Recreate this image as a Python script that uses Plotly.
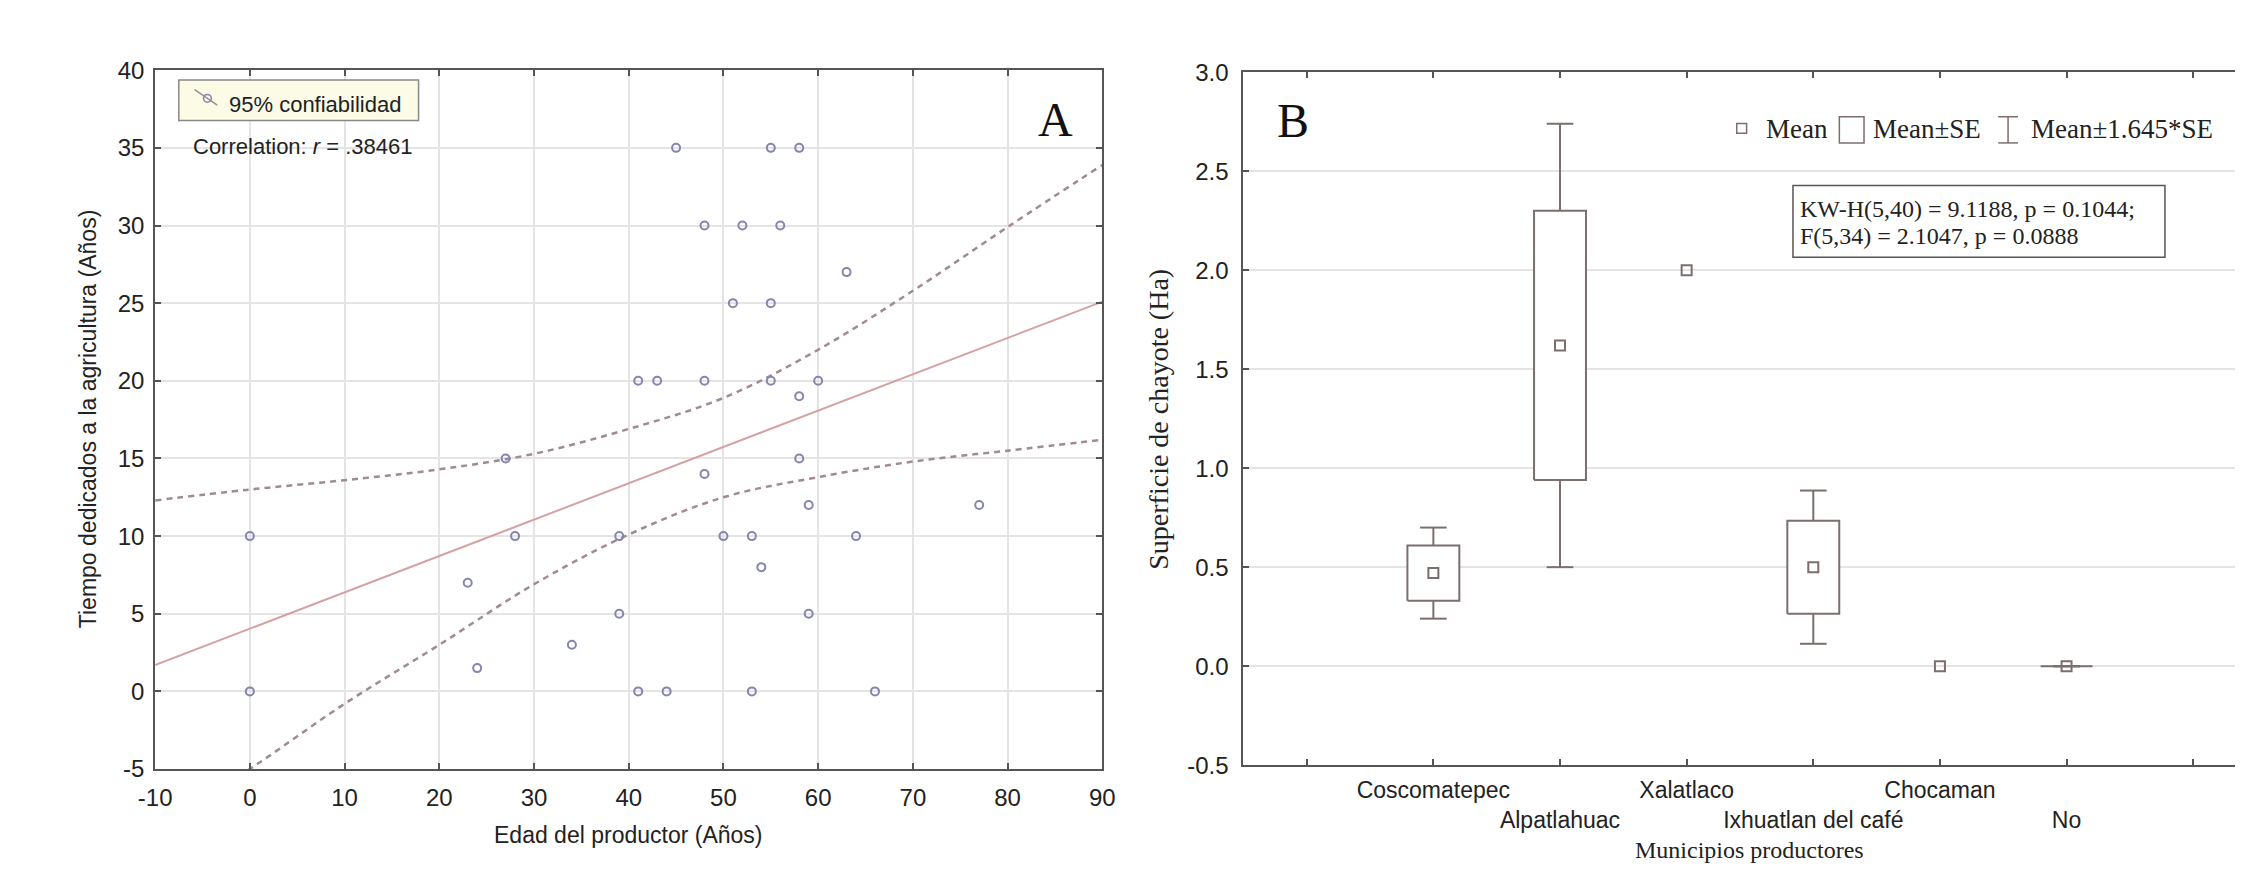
import plotly.graph_objects as go

W, H = 2248, 878

# ---------------- Panel A data ----------------
edad = [0, 0, 23, 24, 27, 28, 34, 39, 39, 41, 43, 41, 44, 45, 48, 48, 48, 50, 51, 52,
        53, 53, 54, 55, 55, 55, 56, 58, 58, 58, 59, 59, 60, 63, 64, 66, 77]
tiempo = [10, 0, 7, 1.5, 15, 10, 3, 10, 5, 20, 20, 0, 0, 35, 30, 20, 14, 10, 25, 30,
          10, 0, 8, 35, 25, 20, 30, 35, 19, 15, 12, 5, 20, 27, 10, 0, 12]
fit_x = [-10, 90]
fit_y = [1.7, 25.1]
band_x = [-10, 0, 10, 20, 30, 40, 50, 60, 70, 80, 90]
band_upper = [12.3, 13.0, 13.6, 14.3, 15.3, 16.9, 18.9, 22.0, 25.8, 29.9, 33.9]
band_lower = [-8.9, -5.0, -0.8, 3.0, 6.9, 10.1, 12.5, 13.8, 14.8, 15.5, 16.2]
x_ticks_a = [-10, 0, 10, 20, 30, 40, 50, 60, 70, 80, 90]
y_ticks_a = [-5, 0, 5, 10, 15, 20, 25, 30, 35, 40]

# ---------------- Panel B data ----------------
municipios = ["Coscomatepec", "Alpatlahuac", "Xalatlaco", "Ixhuatlan del café", "Chocaman", "No"]
media = [0.47, 1.62, 2.0, 0.50, 0.0, 0.0]
se_lo = [0.33, 0.94, None, 0.265, None, 0.0]
se_hi = [0.61, 2.30, None, 0.735, None, 0.0]
ci_lo = [0.24, 0.50, None, 0.113, None, 0.0]
ci_hi = [0.70, 2.74, None, 0.887, None, 0.0]
y_ticks_b = [-0.5, 0.0, 0.5, 1.0, 1.5, 2.0, 2.5, 3.0]

SANS = "Liberation Sans"
SERIF = "Liberation Serif"
AXC = "#555555"
GRID = "#e4e4e4"
BOXC = "#7d6d6d"
PTC = "#8585b0"
FITC = "#d4a2a2"
BANDC = "#a08a95"


def px(x):
    return x / W


def py(y):
    return 1 - y / H


fig = go.Figure()

# Panel A traces
for band in (band_upper, band_lower):
    fig.add_trace(go.Scatter(x=band_x, y=band, mode="lines",
                             line=dict(color=BANDC, width=2.5, dash="6px,5px", shape="spline"),
                             xaxis="x", yaxis="y", showlegend=False, hoverinfo="skip"))
fig.add_trace(go.Scatter(x=fit_x, y=fit_y, mode="lines", line=dict(color=FITC, width=2),
                         xaxis="x", yaxis="y", showlegend=False))
fig.add_trace(go.Scatter(x=edad, y=tiempo, mode="markers",
                         marker=dict(symbol="circle-open", size=8, color=PTC, line=dict(width=2, color=PTC)),
                         xaxis="x", yaxis="y", showlegend=False))

# Panel B traces
bw = 0.205
cw = 0.105
for i, m in enumerate(municipios):
    if ci_lo[i] is not None:
        fig.add_trace(go.Scatter(
            x=[i, i, None, i, i, None, i - cw, i + cw, None, i - cw, i + cw],
            y=[se_hi[i], ci_hi[i], None, se_lo[i], ci_lo[i], None, ci_hi[i], ci_hi[i], None, ci_lo[i], ci_lo[i]],
            mode="lines", line=dict(color=BOXC, width=2), xaxis="x2", yaxis="y2",
            showlegend=False, hoverinfo="skip"))
    if se_lo[i] is not None:
        fig.add_trace(go.Scatter(
            x=[i - bw, i + bw, i + bw, i - bw, i - bw],
            y=[se_lo[i], se_lo[i], se_hi[i], se_hi[i], se_lo[i]],
            mode="lines", fill="toself", fillcolor="white",
            line=dict(color=BOXC, width=2), xaxis="x2", yaxis="y2",
            showlegend=False, hoverinfo="skip"))

fig.add_trace(go.Scatter(x=list(range(len(municipios))), y=media, mode="markers",
                         marker=dict(symbol="square-open", size=10, color=BOXC, line=dict(width=2, color=BOXC)),
                         xaxis="x2", yaxis="y2", showlegend=False))

tick_common = dict(ticks="inside", ticklen=6, tickwidth=1.5, tickcolor=AXC,
                   showline=True, linecolor=AXC, linewidth=2, zeroline=False)
font24 = dict(family=SANS, size=24, color="#222")

fig.update_layout(
    width=W, height=H, autosize=False,
    margin=dict(l=0, r=0, t=0, b=0),
    paper_bgcolor="white", plot_bgcolor="white",
    showlegend=False,
    xaxis=dict(domain=[px(140), px(1100)], range=[-10, 90],
               tickmode="array", tickvals=x_ticks_a, ticktext=[str(v) for v in x_ticks_a],
               showgrid=True, gridcolor=GRID, gridwidth=1.5, mirror="ticks", tickfont=font24,
               ticklabelstandoff=6, anchor="y", tickangle=0, **tick_common),
    yaxis=dict(domain=[py(779), py(58)], range=[-5, 40],
               tickmode="array", tickvals=y_ticks_a, ticktext=[str(v) for v in y_ticks_a],
               showgrid=True, gridcolor=GRID, gridwidth=1.5, mirror="ticks", tickfont=font24,
               ticklabelstandoff=4, anchor="x", **tick_common),
    xaxis2=dict(domain=[px(1243), 1.0], range=[-1.5, 6.33],
                tickmode="array", tickvals=[-1, 0, 1, 2, 3, 4, 5, 6],
                ticktext=["", municipios[0], "<br>" + municipios[1], municipios[2],
                          "<br>" + municipios[3], municipios[4], "<br>" + municipios[5], ""],
                tickangle=0, showgrid=False, mirror="ticks", ticklabelstandoff=3, anchor="y2",
                tickfont=dict(family=SANS, size=23, color="#222"), **tick_common),
    yaxis2=dict(domain=[py(775), py(60)], range=[-0.5, 3.0],
                tickmode="array", tickvals=y_ticks_b, ticktext=["%.1f" % v for v in y_ticks_b],
                showgrid=True, gridcolor=GRID, gridwidth=1.5, mirror=False, tickfont=font24,
                ticklabelstandoff=8, anchor="x2", **tick_common),
)

shapes = []
annotations = []

# Panel A legend box
shapes.append(dict(type="rect", xref="paper", yref="paper", x0=px(164), x1=px(407), y0=py(110), y1=py(68),
                   line=dict(color="#888", width=1.5), fillcolor="#fbfbe6", layer="above"))
shapes.append(dict(type="line", xref="paper", yref="paper", x0=px(180), y0=py(78), x1=px(203), y1=py(94),
                   line=dict(color=BANDC, width=1.5), layer="above"))
shapes.append(dict(type="circle", xref="paper", yref="paper", x0=px(189), x1=px(197), y0=py(91), y1=py(83),
                   line=dict(color=PTC, width=1.5), layer="above"))
annotations.append(dict(xref="paper", yref="paper", x=px(213), y=py(93), xanchor="left", yanchor="middle",
                        text="95% confiabilidad", showarrow=False, font=dict(family=SANS, size=22, color="#222")))
annotations.append(dict(xref="paper", yref="paper", x=px(176), y=py(137), xanchor="left", yanchor="middle",
                        text="Correlation: <i>r</i> = .38461", showarrow=False,
                        font=dict(family=SANS, size=22, color="#222")))
annotations.append(dict(xref="paper", yref="paper", x=px(1053), y=py(109), xanchor="center", yanchor="middle",
                        text="A", showarrow=False, font=dict(family=SERIF, size=48, color="#111")))
annotations.append(dict(xref="paper", yref="paper", x=px(1293), y=py(110), xanchor="center", yanchor="middle",
                        text="B", showarrow=False, font=dict(family=SERIF, size=48, color="#111")))

# Axis titles
annotations.append(dict(xref="paper", yref="paper", x=px(620), y=py(847), xanchor="center", yanchor="middle",
                        text="Edad del productor (Años)", showarrow=False,
                        font=dict(family=SANS, size=23, color="#222")))
annotations.append(dict(xref="paper", yref="paper", x=px(72), y=py(418), xanchor="center", yanchor="middle",
                        text="Tiempo dedicados a la agricultura (Años)", textangle=-90, showarrow=False,
                        font=dict(family=SANS, size=23, color="#222")))
annotations.append(dict(xref="paper", yref="paper", x=px(1157), y=py(418), xanchor="center", yanchor="middle",
                        text="Superficie de chayote (Ha)", textangle=-90, showarrow=False,
                        font=dict(family=SERIF, size=28, color="#222")))
annotations.append(dict(xref="paper", yref="paper", x=px(1756), y=py(878), xanchor="center", yanchor="bottom",
                        text="Municipios productores", showarrow=False,
                        font=dict(family=SERIF, size=24, color="#222")))

# Panel B legend
shapes.append(dict(type="rect", xref="paper", yref="paper", x0=px(1743), x1=px(1753), y0=py(123), y1=py(113),
                   line=dict(color=BOXC, width=1.5), fillcolor="white", layer="above"))
shapes.append(dict(type="rect", xref="paper", yref="paper", x0=px(1847), x1=px(1872), y0=py(133), y1=py(106),
                   line=dict(color=BOXC, width=1.5), fillcolor="white", layer="above"))
shapes.append(dict(type="line", xref="paper", yref="paper", x0=px(2018), x1=px(2018), y0=py(133), y1=py(106),
                   line=dict(color=BOXC, width=1.5), layer="above"))
shapes.append(dict(type="line", xref="paper", yref="paper", x0=px(2008), x1=px(2028), y0=py(106), y1=py(106),
                   line=dict(color=BOXC, width=1.5), layer="above"))
shapes.append(dict(type="line", xref="paper", yref="paper", x0=px(2008), x1=px(2028), y0=py(133), y1=py(133),
                   line=dict(color=BOXC, width=1.5), layer="above"))
for txt, x0 in [("Mean", 1771), ("Mean±SE", 1879), ("Mean±1.645*SE", 2039)]:
    annotations.append(dict(xref="paper", yref="paper", x=px(x0), y=py(119), xanchor="left", yanchor="middle",
                            text=txt, showarrow=False, font=dict(family=SERIF, size=27, color="#222")))

# KW box
shapes.append(dict(type="rect", xref="paper", yref="paper", x0=px(1800), x1=px(2177), y0=py(251), y1=py(177),
                   line=dict(color="#555", width=1.5), fillcolor="white", layer="above"))
annotations.append(dict(xref="paper", yref="paper", x=px(1805), y=py(201), xanchor="left", yanchor="middle",
                        text="KW-H(5,40) = 9.1188, p = 0.1044;", showarrow=False,
                        font=dict(family=SERIF, size=24, color="#222")))
annotations.append(dict(xref="paper", yref="paper", x=px(1805), y=py(229), xanchor="left", yanchor="middle",
                        text="F(5,34) = 2.1047, p = 0.0888", showarrow=False,
                        font=dict(family=SERIF, size=24, color="#222")))

fig.update_layout(shapes=shapes, annotations=annotations)

fig.write_html("out.html", config={"displayModeBar": False},
               post_script="document.body.style.margin='0px';")
